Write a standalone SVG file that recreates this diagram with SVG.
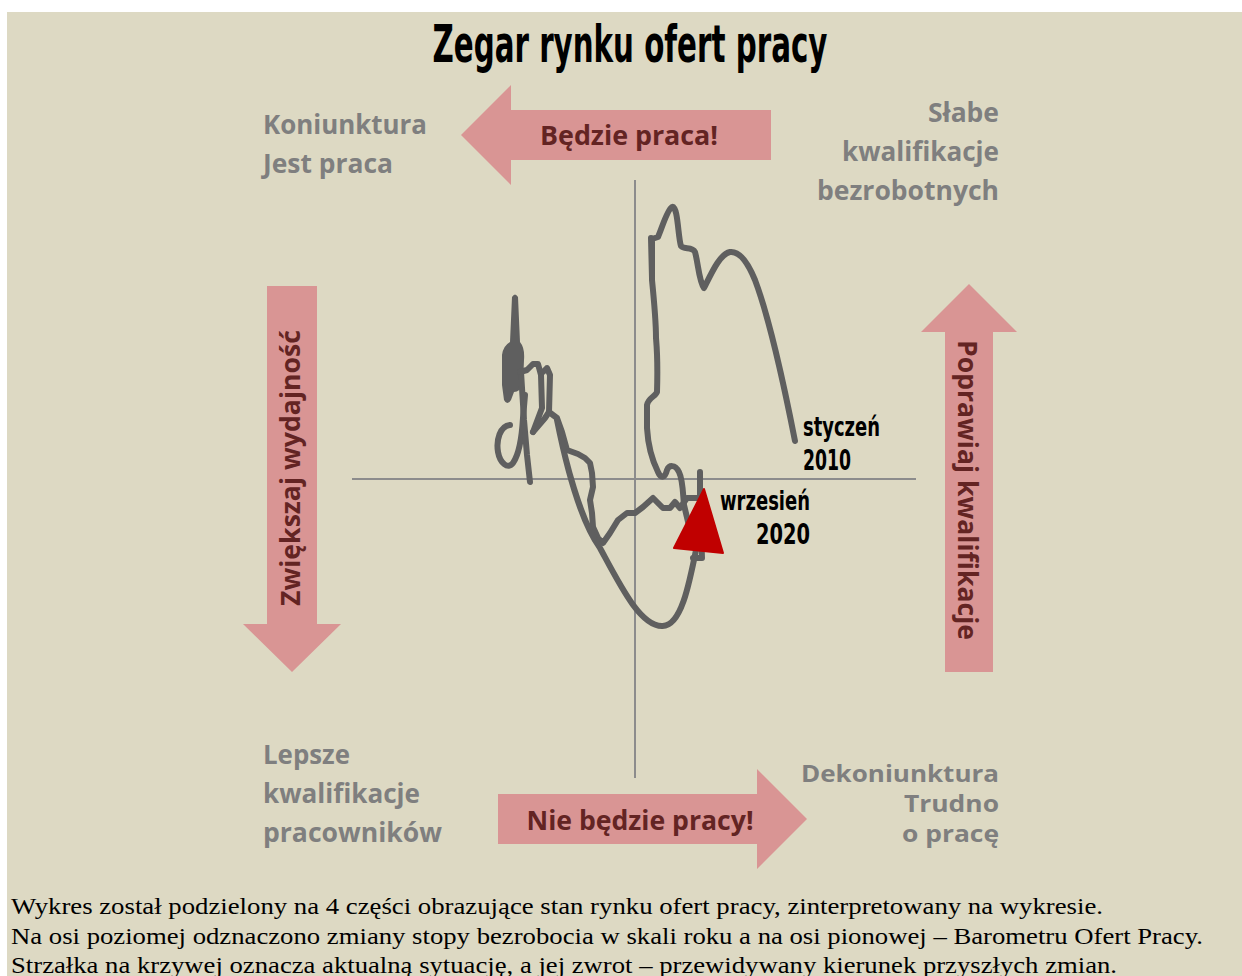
<svg xmlns="http://www.w3.org/2000/svg" width="1242" height="976" viewBox="0 0 1242 976">
<style>
.q{font-family:"Open Sans","Liberation Sans",sans-serif;font-weight:bold;font-size:26px;fill:#7f7f7f}
.q2{font-size:24px}
.a{font-family:"Open Sans","Liberation Sans",sans-serif;font-weight:bold;font-size:26px;fill:#632423}
.c{font-family:"DejaVu Sans Condensed","DejaVu Sans",sans-serif;font-stretch:condensed;font-weight:bold;fill:#000}
.b{font-family:"Liberation Serif","Times New Roman",serif;font-size:24px;fill:#000}
.arr{fill:#d99594}
.ax{stroke:#8c8c8c;stroke-width:2;fill:none}
.cv{stroke:#5f5f5f;stroke-width:6;fill:none;stroke-linejoin:round;stroke-linecap:round}
</style>
<rect x="0" y="0" width="1242" height="976" fill="#ffffff"/>
<rect x="7" y="12" width="1235" height="964" fill="#ddd9c3"/>
<text class="c" x="630" y="62" font-size="52" text-anchor="middle" textLength="395" lengthAdjust="spacingAndGlyphs">Zegar rynku ofert pracy</text>
<g id="axes" class="ax">
<line x1="635" y1="180" x2="635" y2="778"/>
<line x1="352" y1="479" x2="916" y2="479"/>
</g>
<g id="arrow-top">
<path class="arr" d="M771,110 L511,110 L511,85 L461,135 L511,185 L511,160 L771,160 Z"/>
<text class="a" x="629" y="145" text-anchor="middle" textLength="178" lengthAdjust="spacingAndGlyphs">Będzie praca!</text>
</g>
<g id="arrow-bottom">
<path class="arr" d="M498,794 L757,794 L757,769 L807,819 L757,869 L757,844 L498,844 Z"/>
<text class="a" x="640" y="830" text-anchor="middle" textLength="227" lengthAdjust="spacingAndGlyphs">Nie będzie pracy!</text>
</g>
<g id="arrow-left">
<path class="arr" d="M267,286 L317,286 L317,624 L341,624 L292,672 L243,624 L267,624 Z"/>
<text class="a" transform="translate(300,468) rotate(-90)" x="0" y="0" text-anchor="middle" textLength="276" lengthAdjust="spacingAndGlyphs">Zwiększaj wydajność</text>
</g>
<g id="arrow-right">
<path class="arr" d="M945,672 L993,672 L993,332 L1017,332 L969,284 L921,332 L945,332 Z"/>
<text class="a" transform="translate(958,490) rotate(90)" x="0" y="0" text-anchor="middle" textLength="300" lengthAdjust="spacingAndGlyphs">Poprawiaj kwalifikacje</text>
</g>
<g id="q-top-left">
<text class="q" x="263" y="134" textLength="164" lengthAdjust="spacingAndGlyphs">Koniunktura</text>
<text class="q" x="263" y="173" textLength="130" lengthAdjust="spacingAndGlyphs">Jest praca</text>
</g>
<g id="q-top-right">
<text class="q" x="999" y="122" text-anchor="end" textLength="71" lengthAdjust="spacingAndGlyphs">Słabe</text>
<text class="q" x="999" y="161" text-anchor="end" textLength="157" lengthAdjust="spacingAndGlyphs">kwalifikacje</text>
<text class="q" x="999" y="200" text-anchor="end" textLength="182" lengthAdjust="spacingAndGlyphs">bezrobotnych</text>
</g>
<g id="q-bottom-left">
<text class="q" x="263" y="764" textLength="87" lengthAdjust="spacingAndGlyphs">Lepsze</text>
<text class="q" x="263" y="803" textLength="157" lengthAdjust="spacingAndGlyphs">kwalifikacje</text>
<text class="q" x="263" y="842" textLength="179" lengthAdjust="spacingAndGlyphs">pracowników</text>
</g>
<g id="q-bottom-right">
<text class="q q2" x="999" y="782" text-anchor="end" textLength="198" lengthAdjust="spacingAndGlyphs">Dekoniunktura</text>
<text class="q q2" x="999" y="812" text-anchor="end" textLength="95" lengthAdjust="spacingAndGlyphs">Trudno</text>
<text class="q q2" x="999" y="842" text-anchor="end" textLength="97" lengthAdjust="spacingAndGlyphs">o pracę</text>
</g>
<g id="curve">
<path class="cv" d="M795,441 C785,390 770,320 755,280 C746,258 738,251 730,252 C720,254 712,272 704,288 C699,282 698,262 695,252 C692,246 684,250 681,246 C678,238 678,205 672,207 C667,210 662,228 658,237 L652,239 L652,280 C654,300 656,320 656,338 C657,350 658,360 657,392 C656,396 648,398 647,405 L647,428 C648,445 652,460 658,472 C661,479 665,478 667,470 C669,465 675,464 679,472 C683,480 683,495 684,505 L690,530"/>
<path class="cv" stroke-width="9" d="M651,238 L652,278"/>
<path class="cv" d="M549,412 L557,418 L562,432 L567,450 L578,454 L585,458 L590,463 L592,473 L593,487 L590,500 L592,513 L593,527 L598,538 L603,543 L610,533 L618,520 L627,513 L635,513 L643,507 L653,498 L663,508 L670,508 L675,502 L680,508 L687,498 L693,498 L700,498 L700,472"/>
<path class="cv" d="M700,498 L702,558 L693,558"/>
<path class="cv" d="M557,420 C565,460 580,520 600,548 C620,585 640,626 662,626 C682,627 690,580 698,540"/>
<path fill="#5f5f5f" d="M512,297 Q515,292 518,297 L520,342 Q525,348 524,360 L523,384 Q520,392 514,392 L511,400 Q507,406 504,400 L502,385 L502,355 Q503,346 510,342 Z"/>
<path class="cv" d="M510,425 C500,426 496,440 498,452 C500,463 508,470 513,463 C520,453 522,435 523,418 L525,395"/>
<path class="cv" d="M521,372 L524,420 L527,455 L530,482"/>
<path class="cv" d="M520,372 L527,370 L533,364 L538,364 L541,375 L542,408 L533,432"/>
<path class="cv" d="M533,432 L545,418 L549,412 L550,375 L547,368 L543,372"/>
<path fill="#c00000" stroke="#c00000" stroke-width="2" stroke-linejoin="round" d="M704,489 L674,548 L723,553 Z"/>
</g>
<g id="labels">
<text class="c" x="803" y="436" font-size="26" textLength="77" lengthAdjust="spacingAndGlyphs">styczeń</text>
<text class="c" x="803" y="470" font-size="28" textLength="48" lengthAdjust="spacingAndGlyphs">2010</text>
<text class="c" x="720" y="510" font-size="26" textLength="90" lengthAdjust="spacingAndGlyphs">wrzesień</text>
<text class="c" x="810" y="544" font-size="28" text-anchor="end" textLength="54" lengthAdjust="spacingAndGlyphs">2020</text>
</g>
<g id="caption">
<text class="b" x="11" y="914" textLength="1092" lengthAdjust="spacingAndGlyphs">Wykres został podzielony na 4 części obrazujące stan rynku ofert pracy, zinterpretowany na wykresie.</text>
<text class="b" x="11" y="944" textLength="1192" lengthAdjust="spacingAndGlyphs">Na osi poziomej odznaczono zmiany stopy bezrobocia w skali roku a na osi pionowej – Barometru Ofert Pracy.</text>
<text class="b" x="11" y="973" textLength="1106" lengthAdjust="spacingAndGlyphs">Strzałka na krzywej oznacza aktualną sytuację, a jej zwrot – przewidywany kierunek przyszłych zmian.</text>
</g>
</svg>
